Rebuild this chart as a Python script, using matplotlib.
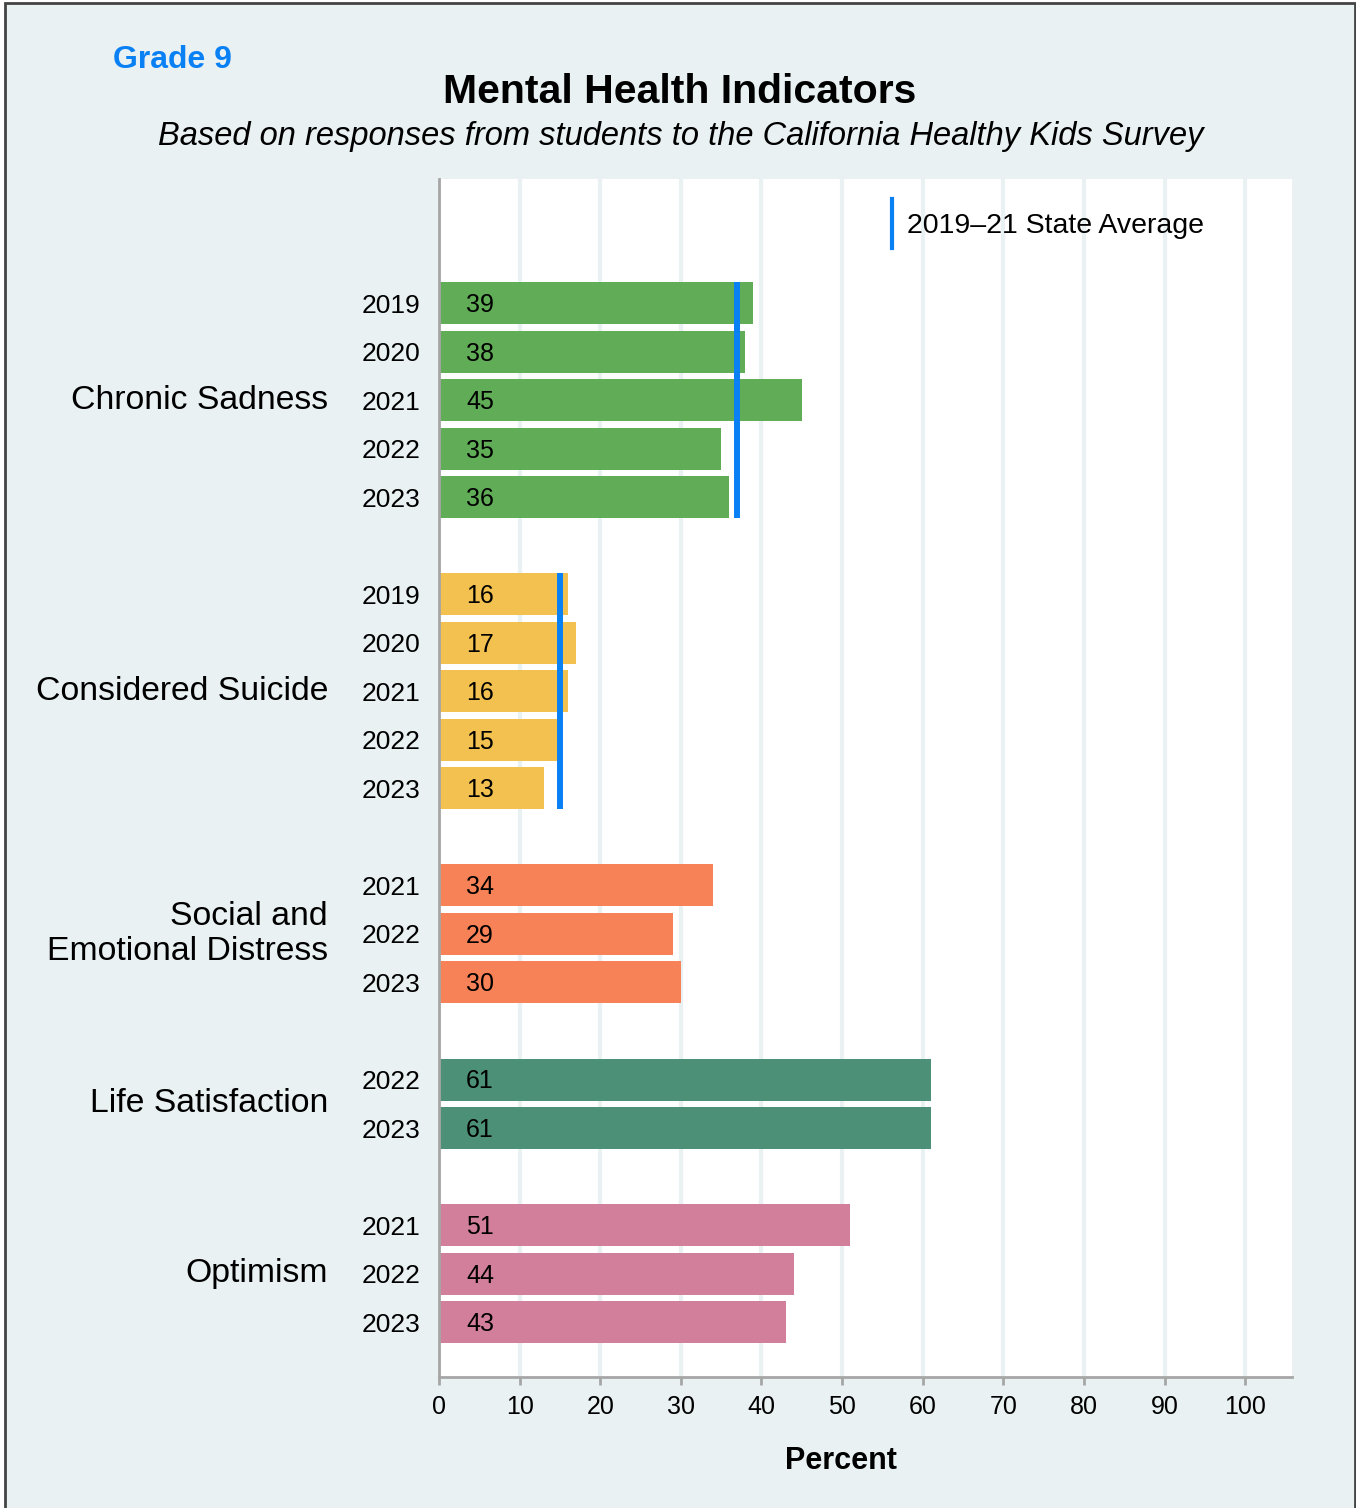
import matplotlib.pyplot as plt
import matplotlib.transforms as mtransforms
from matplotlib.patches import Rectangle

plt.rcParams['font.family'] = ['Liberation Sans', 'DejaVu Sans']

GROUPS = ['Chronic Sadness', 'Considered Suicide', 'Social and\nEmotional Distress',
          'Life Satisfaction', 'Optimism']
GROUP_YEARS = [
    ['2019', '2020', '2021', '2022', '2023'],
    ['2019', '2020', '2021', '2022', '2023'],
    ['2021', '2022', '2023'],
    ['2022', '2023'],
    ['2021', '2022', '2023'],
]
GROUP_VALUES = [
    [39, 38, 45, 35, 36],
    [16, 17, 16, 15, 13],
    [34, 29, 30],
    [61, 61],
    [51, 44, 43],
]
STATE_AVG = [37, 15, None, None, None]
COLORS = ['#61ac57', '#f3c150', '#f78257', '#4c9077', '#d27f9c']

BG = '#e9f1f3'
BLUE = '#0a80f5'
GRAY = '#a6a6a6'


def main():
    fig = plt.figure(figsize=(13.56, 15.08), dpi=100, facecolor='white')
    fig.patches.append(Rectangle((5 / 1356, -0.01), 1350 / 1356, 1.01 - 3 / 1508,
                                 transform=fig.transFigure, facecolor=BG,
                                 edgecolor='#444444', linewidth=2, zorder=-10))

    ax = fig.add_axes([439 / 1356, 1 - 1377 / 1508, 853 / 1356, 1198 / 1508])
    ax.set_facecolor('white')

    slot = 0
    ticks, tick_labels = [], []
    lab_tf = mtransforms.blended_transform_factory(ax.transAxes, ax.transData)
    for g, name in enumerate(GROUPS):
        ys = list(range(slot, slot + len(GROUP_VALUES[g])))
        ax.barh(ys, GROUP_VALUES[g], height=0.866, color=COLORS[g], zorder=2)
        for y, v in zip(ys, GROUP_VALUES[g]):
            ax.text(3.35, y + 0.04, str(v), ha='left', va='center', fontsize=18, zorder=4)
        if STATE_AVG[g] is not None:
            ax.vlines(STATE_AVG[g], ys[0] - 0.433, ys[-1] + 0.433, color=BLUE,
                      linewidth=4.3, zorder=3)
        ax.text(-0.130, (ys[0] + ys[-1]) / 2, name, transform=lab_tf, ha='right',
                va='center', fontsize=24.3, multialignment='right', linespacing=1.15)
        ticks += ys
        tick_labels += GROUP_YEARS[g]
        slot = ys[-1] + 2

    ax.set_xlim(0, 105.8)
    ax.set_ylim(22.13, -2.556)
    ax.set_xticks(range(0, 101, 10))
    ax.set_yticks(ticks, tick_labels)
    ax.tick_params(axis='y', length=0, pad=13.5, labelsize=19)
    ax.tick_params(axis='x', length=6, width=2, color=GRAY, pad=7, labelsize=18)
    ax.grid(axis='x', color=BG, linewidth=3)
    ax.set_axisbelow(True)
    for side in ['top', 'right']:
        ax.spines[side].set_visible(False)
    for side in ['left', 'bottom']:
        ax.spines[side].set_color(GRAY)
        ax.spines[side].set_linewidth(2)

    # legend for the state average marker
    ax.plot([56.2, 56.2], [-2.14, -1.13], color=BLUE, linewidth=3, zorder=3)
    ax.text(58.1, -1.58, '2019\u201321 State Average', ha='left', va='center', fontsize=20.5)

    fig.text(113 / 1356, 1 - 60 / 1508, 'Grade 9', color=BLUE, fontsize=23,
             fontweight='bold', ha='left', va='center')
    fig.text(680 / 1356, 1 - 92 / 1508, 'Mental Health Indicators', fontsize=29.5,
             fontweight='bold', ha='center', va='center')
    fig.text(681 / 1356, 1 - 137 / 1508,
             'Based on responses from students to the California Healthy Kids Survey',
             fontsize=23.5, style='italic', ha='center', va='center')
    fig.text(841 / 1356, 1 - 1461 / 1508, 'Percent', fontsize=22, fontweight='bold',
             ha='center', va='center')

    fig.savefig('out.png', dpi=100, facecolor='white')


if __name__ == '__main__':
    main()
